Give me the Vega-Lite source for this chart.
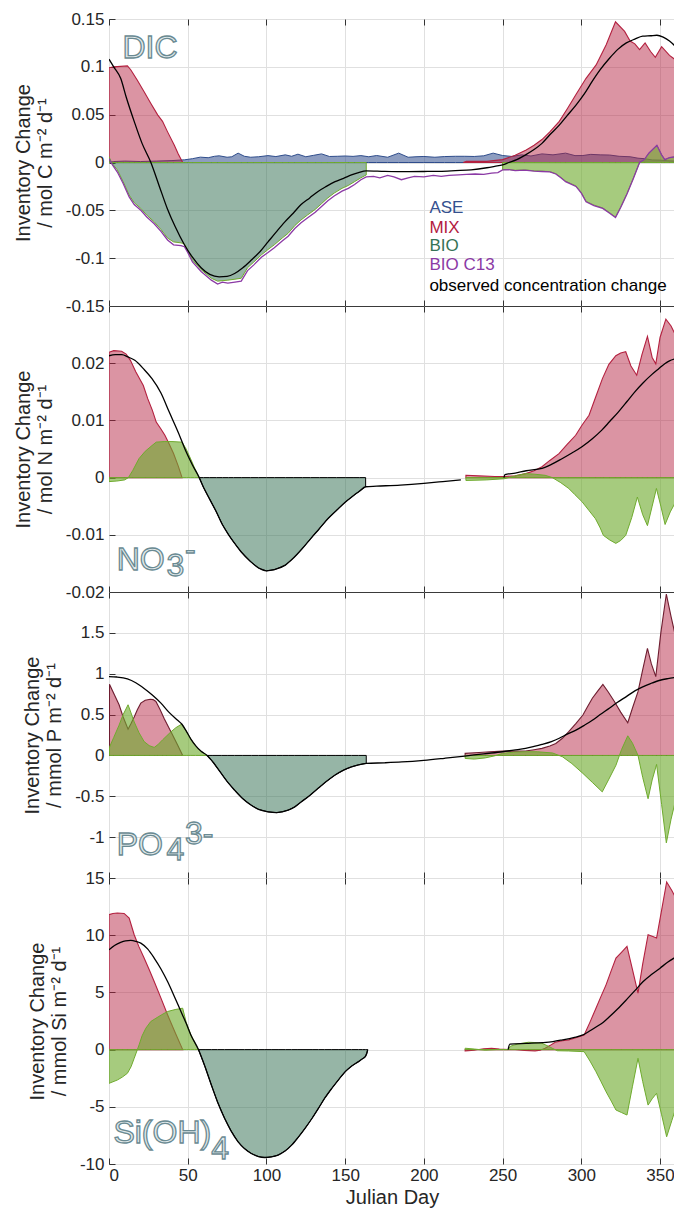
{
  "$schema": "https://vega.github.io/schema/vega-lite/v6.json",
  "padding": {"left": 12, "top": 9, "right": 0, "bottom": 2},
  "background": "white",
  "spacing": 0,
  "bounds": "flush",
  "config": {
    "font": "Liberation Sans",
    "view": {"stroke": "#3a3a3a", "strokeWidth": 1},
    "axis": {
      "labelFont": "Liberation Sans", "labelFontSize": 17, "labelColor": "#262626",
      "titleFont": "Liberation Sans", "titleFontSize": 20, "titleFontWeight": "normal", "titleColor": "#262626",
      "gridColor": "#e0e0e0", "gridWidth": 1, "tickColor": "#333333", "tickSize": -6, "tickWidth": 1,
      "domain": false, "labelPadding": 11, "titleLineHeight": 22, "titlePadding": 10
    }
  },
  "datasets": {
    "dic_ase": [
      {"g":1,"d":0,"v":0.0},{"g":1,"d":3,"v":0.001},{"g":1,"d":10,"v":0.0015},{"g":1,"d":20,"v":0.001},{"g":1,"d":30,"v":0.0015},{"g":1,"d":40,"v":0.002},{"g":1,"d":48,"v":0.0028},{"g":1,"d":53,"v":0.004},{"g":1,"d":58,"v":0.0056},{"g":1,"d":63,"v":0.005},{"g":1,"d":67,"v":0.0065},{"g":1,"d":70,"v":0.007},{"g":1,"d":75,"v":0.0055},{"g":1,"d":78,"v":0.006},{"g":1,"d":82,"v":0.0098},{"g":1,"d":86,"v":0.0065},{"g":1,"d":90,"v":0.0055},{"g":1,"d":95,"v":0.006},{"g":1,"d":101,"v":0.0072},{"g":1,"d":106,"v":0.0062},{"g":1,"d":112,"v":0.008},{"g":1,"d":116,"v":0.0065},{"g":1,"d":120,"v":0.0087},{"g":1,"d":125,"v":0.006},{"g":1,"d":130,"v":0.0075},{"g":1,"d":135,"v":0.009},{"g":1,"d":140,"v":0.0063},{"g":1,"d":145,"v":0.0065},{"g":1,"d":150,"v":0.0068},{"g":1,"d":155,"v":0.0064},{"g":1,"d":160,"v":0.0072},{"g":1,"d":165,"v":0.006},{"g":1,"d":170,"v":0.0073},{"g":1,"d":177,"v":0.0055},{"g":1,"d":184,"v":0.0098},{"g":1,"d":190,"v":0.0055},{"g":1,"d":195,"v":0.006},{"g":1,"d":200,"v":0.0063},{"g":1,"d":207,"v":0.0055},{"g":1,"d":213,"v":0.0062},{"g":1,"d":220,"v":0.0065},{"g":1,"d":226,"v":0.0065},{"g":1,"d":232,"v":0.0063},{"g":1,"d":238,"v":0.007},{"g":1,"d":244,"v":0.0098},{"g":1,"d":250,"v":0.0073},{"g":1,"d":256,"v":0.0063},{"g":1,"d":262,"v":0.008},{"g":1,"d":268,"v":0.0068},{"g":1,"d":275,"v":0.009},{"g":1,"d":282,"v":0.008},{"g":1,"d":290,"v":0.0098},{"g":1,"d":296,"v":0.0072},{"g":1,"d":301,"v":0.0073},{"g":1,"d":306,"v":0.0085},{"g":1,"d":312,"v":0.008},{"g":1,"d":318,"v":0.0078},{"g":1,"d":324,"v":0.0065},{"g":1,"d":331,"v":0.006},{"g":1,"d":336,"v":0.0045},{"g":1,"d":340,"v":0.004},{"g":1,"d":345,"v":0.0027},{"g":1,"d":350,"v":0.0025},{"g":1,"d":355,"v":0.0018},{"g":1,"d":360,"v":0.0015}
    ],
    "dic_mix": [
      {"g":1,"d":0,"v":0.099},{"g":1,"d":3,"v":0.1},{"g":1,"d":11.7,"v":0.101},{"g":1,"d":13.8,"v":0.097},{"g":1,"d":18,"v":0.086},{"g":1,"d":22.3,"v":0.074},{"g":1,"d":26.5,"v":0.062},{"g":1,"d":30.9,"v":0.0498},{"g":1,"d":34,"v":0.043},{"g":1,"d":37.2,"v":0.032},{"g":1,"d":41.5,"v":0.018},{"g":1,"d":44,"v":0.009},{"g":1,"d":46.8,"v":0},
      {"g":2,"d":225,"v":0},{"g":2,"d":227,"v":0.0012},{"g":2,"d":240,"v":0.0012},{"g":2,"d":250,"v":0.003},{"g":2,"d":258,"v":0.0075},{"g":2,"d":265,"v":0.013},{"g":2,"d":270,"v":0.018},{"g":2,"d":275,"v":0.024},{"g":2,"d":280,"v":0.032},{"g":2,"d":286,"v":0.043},{"g":2,"d":291,"v":0.056},{"g":2,"d":296.6,"v":0.071},{"g":2,"d":303,"v":0.088},{"g":2,"d":309.4,"v":0.102},{"g":2,"d":315.8,"v":0.123},{"g":2,"d":321.7,"v":0.147},{"g":2,"d":327.5,"v":0.137},{"g":2,"d":331,"v":0.127},{"g":2,"d":334,"v":0.124},{"g":2,"d":337,"v":0.118},{"g":2,"d":340.5,"v":0.125},{"g":2,"d":344,"v":0.116},{"g":2,"d":347,"v":0.11},{"g":2,"d":351,"v":0.121},{"g":2,"d":356,"v":0.112},{"g":2,"d":360,"v":0.107}
    ],
    "dic_teal": [
      {"g":1,"d":0,"v":0.006},{"g":1,"d":2,"v":-0.001},{"g":1,"d":5.3,"v":-0.0077},{"g":1,"d":9,"v":-0.02},{"g":1,"d":12.8,"v":-0.034},{"g":1,"d":16,"v":-0.042},{"g":1,"d":20.2,"v":-0.048},{"g":1,"d":24,"v":-0.055},{"g":1,"d":28.7,"v":-0.062},{"g":1,"d":33,"v":-0.07},{"g":1,"d":37.2,"v":-0.079},{"g":1,"d":41,"v":-0.083},{"g":1,"d":45.7,"v":-0.084},{"g":1,"d":47.9,"v":-0.085},{"g":1,"d":50,"v":-0.092},{"g":1,"d":53,"v":-0.102},{"g":1,"d":58.5,"v":-0.112},{"g":1,"d":65,"v":-0.121},{"g":1,"d":69,"v":-0.124},{"g":1,"d":75.5,"v":-0.123},{"g":1,"d":80,"v":-0.122},{"g":1,"d":84,"v":-0.121},{"g":1,"d":88,"v":-0.11},{"g":1,"d":92,"v":-0.104},{"g":1,"d":96.8,"v":-0.0965},{"g":1,"d":101,"v":-0.091},{"g":1,"d":105,"v":-0.086},{"g":1,"d":110,"v":-0.079},{"g":1,"d":113.8,"v":-0.074},{"g":1,"d":118,"v":-0.066},{"g":1,"d":122,"v":-0.06},{"g":1,"d":126,"v":-0.055},{"g":1,"d":131,"v":-0.049},{"g":1,"d":135,"v":-0.043},{"g":1,"d":139,"v":-0.037},{"g":1,"d":143,"v":-0.032},{"g":1,"d":148,"v":-0.027},{"g":1,"d":152,"v":-0.024},{"g":1,"d":156,"v":-0.02},{"g":1,"d":160,"v":-0.016},{"g":1,"d":163.4,"v":-0.013}
    ],
    "dic_bio": [
      {"g":2,"d":250,"v":-0.0075},{"g":2,"d":254,"v":-0.0073},{"g":2,"d":258,"v":-0.0082},{"g":2,"d":264,"v":-0.0077},{"g":2,"d":270,"v":-0.0087},{"g":2,"d":275,"v":-0.0091},{"g":2,"d":280,"v":-0.0095},{"g":2,"d":283.8,"v":-0.0117},{"g":2,"d":287,"v":-0.0155},{"g":2,"d":290,"v":-0.0195},{"g":2,"d":296.6,"v":-0.0245},{"g":2,"d":300,"v":-0.0315},{"g":2,"d":303,"v":-0.0405},{"g":2,"d":308,"v":-0.0445},{"g":2,"d":313.6,"v":-0.0475},{"g":2,"d":318,"v":-0.0525},{"g":2,"d":321.7,"v":-0.057},{"g":2,"d":325,"v":-0.0465},{"g":2,"d":329,"v":-0.0325},{"g":2,"d":333,"v":-0.0165},{"g":2,"d":337,"v":0},{"g":2,"d":340,"v":0.003},{"g":2,"d":343,"v":0.01},{"g":2,"d":348,"v":0.018},{"g":2,"d":351,"v":0.008},{"g":2,"d":353,"v":0.003},{"g":2,"d":356,"v":0.005},{"g":2,"d":360,"v":0.006}
    ],
    "dic_c13": [
      {"g":1,"d":0,"v":0.004},{"g":1,"d":2,"v":-0.002},{"g":1,"d":5.3,"v":-0.01},{"g":1,"d":9,"v":-0.022},{"g":1,"d":12.8,"v":-0.036},{"g":1,"d":16,"v":-0.044},{"g":1,"d":20.2,"v":-0.05},{"g":1,"d":24,"v":-0.057},{"g":1,"d":28.7,"v":-0.064},{"g":1,"d":33,"v":-0.072},{"g":1,"d":37.2,"v":-0.081},{"g":1,"d":41,"v":-0.086},{"g":1,"d":45.7,"v":-0.087},{"g":1,"d":47.9,"v":-0.088},{"g":1,"d":50,"v":-0.094},{"g":1,"d":53,"v":-0.104},{"g":1,"d":58.5,"v":-0.114},{"g":1,"d":65,"v":-0.123},{"g":1,"d":69,"v":-0.127},{"g":1,"d":72,"v":-0.125},{"g":1,"d":75.5,"v":-0.126},{"g":1,"d":80,"v":-0.125},{"g":1,"d":84,"v":-0.124},{"g":1,"d":88,"v":-0.113},{"g":1,"d":92,"v":-0.107},{"g":1,"d":96.8,"v":-0.099},{"g":1,"d":101,"v":-0.094},{"g":1,"d":105,"v":-0.089},{"g":1,"d":110,"v":-0.082},{"g":1,"d":113.8,"v":-0.077},{"g":1,"d":118,"v":-0.069},{"g":1,"d":122,"v":-0.063},{"g":1,"d":126,"v":-0.058},{"g":1,"d":131,"v":-0.052},{"g":1,"d":135,"v":-0.046},{"g":1,"d":139,"v":-0.04},{"g":1,"d":143,"v":-0.035},{"g":1,"d":148,"v":-0.03},{"g":1,"d":152,"v":-0.027},{"g":1,"d":156,"v":-0.023},{"g":1,"d":160,"v":-0.018},{"g":1,"d":163.4,"v":-0.015},{"g":1,"d":168,"v":-0.0146},{"g":1,"d":172,"v":-0.016},{"g":1,"d":177,"v":-0.0135},{"g":1,"d":181,"v":-0.015},{"g":1,"d":185.7,"v":-0.018},{"g":1,"d":190,"v":-0.016},{"g":1,"d":194,"v":-0.0146},{"g":1,"d":200,"v":-0.015},{"g":1,"d":206,"v":-0.0135},{"g":1,"d":211,"v":-0.0146},{"g":1,"d":216,"v":-0.0135},{"g":1,"d":222,"v":-0.013},{"g":1,"d":227,"v":-0.0125},{"g":1,"d":232.6,"v":-0.012},{"g":1,"d":238,"v":-0.0125},{"g":1,"d":243,"v":-0.011},{"g":1,"d":247,"v":-0.0105},{"g":1,"d":250,"v":-0.0077},{"g":1,"d":254,"v":-0.0075},{"g":1,"d":258,"v":-0.0085},{"g":1,"d":264,"v":-0.008},{"g":1,"d":270,"v":-0.009},{"g":1,"d":275,"v":-0.0094},{"g":1,"d":280,"v":-0.0098},{"g":1,"d":283.8,"v":-0.012},{"g":1,"d":287,"v":-0.016},{"g":1,"d":290,"v":-0.02},{"g":1,"d":296.6,"v":-0.025},{"g":1,"d":300,"v":-0.032},{"g":1,"d":303,"v":-0.041},{"g":1,"d":308,"v":-0.045},{"g":1,"d":313.6,"v":-0.048},{"g":1,"d":318,"v":-0.053},{"g":1,"d":321.7,"v":-0.0575},{"g":1,"d":325,"v":-0.047},{"g":1,"d":329,"v":-0.033},{"g":1,"d":333,"v":-0.017},{"g":1,"d":337,"v":0},{"g":1,"d":340,"v":0.003},{"g":1,"d":343,"v":0.01},{"g":1,"d":348,"v":0.018},{"g":1,"d":351,"v":0.008},{"g":1,"d":353,"v":0.003},{"g":1,"d":356,"v":0.005},{"g":1,"d":360,"v":0.006}
    ],
    "dic_obs": [
      {"g":1,"d":0,"v":0.108},{"g":1,"d":3,"v":0.1},{"g":1,"d":7.4,"v":0.088},{"g":1,"d":11,"v":0.068},{"g":1,"d":16,"v":0.043},{"g":1,"d":21,"v":0.02},{"g":1,"d":26.6,"v":0},{"g":1,"d":32,"v":-0.025},{"g":1,"d":37,"v":-0.048},{"g":1,"d":42,"v":-0.067},{"g":1,"d":47.9,"v":-0.086},{"g":1,"d":53,"v":-0.099},{"g":1,"d":58.5,"v":-0.11},{"g":1,"d":64,"v":-0.117},{"g":1,"d":70,"v":-0.1195},{"g":1,"d":75,"v":-0.119},{"g":1,"d":79.8,"v":-0.116},{"g":1,"d":85,"v":-0.11},{"g":1,"d":90.4,"v":-0.102},{"g":1,"d":96,"v":-0.093},{"g":1,"d":101,"v":-0.083},{"g":1,"d":106,"v":-0.073},{"g":1,"d":111.7,"v":-0.062},{"g":1,"d":117,"v":-0.053},{"g":1,"d":122,"v":-0.044},{"g":1,"d":127.5,"v":-0.037},{"g":1,"d":133,"v":-0.03},{"g":1,"d":138,"v":-0.025},{"g":1,"d":143.6,"v":-0.02},{"g":1,"d":149,"v":-0.0165},{"g":1,"d":154,"v":-0.013},{"g":1,"d":158.5,"v":-0.0105},{"g":1,"d":163.4,"v":-0.0087},{"g":1,"d":175,"v":-0.0092},{"g":1,"d":190,"v":-0.0095},{"g":1,"d":200,"v":-0.0094},{"g":1,"d":210,"v":-0.0092},{"g":1,"d":220,"v":-0.0085},{"g":1,"d":230,"v":-0.0077},{"g":1,"d":240,"v":-0.0055},{"g":1,"d":245,"v":-0.004},{"g":1,"d":250,"v":-0.0024},{"g":1,"d":254,"v":0},{"g":1,"d":259,"v":0.003},{"g":1,"d":264.6,"v":0.008},{"g":1,"d":270,"v":0.0135},{"g":1,"d":275,"v":0.02},{"g":1,"d":280,"v":0.029},{"g":1,"d":286,"v":0.039},{"g":1,"d":291,"v":0.049},{"g":1,"d":296.6,"v":0.06},{"g":1,"d":302,"v":0.072},{"g":1,"d":307,"v":0.085},{"g":1,"d":312,"v":0.097},{"g":1,"d":317.9,"v":0.109},{"g":1,"d":323,"v":0.118},{"g":1,"d":328.6,"v":0.125},{"g":1,"d":334,"v":0.129},{"g":1,"d":339,"v":0.132},{"g":1,"d":344,"v":0.1325},{"g":1,"d":348,"v":0.133},{"g":1,"d":352,"v":0.131},{"g":1,"d":356,"v":0.127},{"g":1,"d":360,"v":0.121}
    ],
    "dic_name": [{"t":"DIC","d":8.5,"v":0.1089}],
    "dic_leg": [
      {"t":"ASE","d":203.5,"v":-0.0529},{"t":"MIX","d":203.5,"v":-0.0738},{"t":"BIO","d":203.5,"v":-0.0929},{"t":"BIO C13","d":203.5,"v":-0.1127},{"t":"observed concentration change","d":203.5,"v":-0.1339}
    ],
    "no3_mix": [
      {"g":1,"d":0,"v":0.0219},{"g":1,"d":3,"v":0.0222},{"g":1,"d":8,"v":0.0221},{"g":1,"d":10.9,"v":0.0216},{"g":1,"d":13.6,"v":0.0205},{"g":1,"d":17,"v":0.0185},{"g":1,"d":21.8,"v":0.0161},{"g":1,"d":24.6,"v":0.0138},{"g":1,"d":27.5,"v":0.0118},{"g":1,"d":30,"v":0.0097},{"g":1,"d":33,"v":0.0085},{"g":1,"d":35.5,"v":0.0074},{"g":1,"d":38,"v":0.006},{"g":1,"d":41,"v":0.0042},{"g":1,"d":44,"v":0.002},{"g":1,"d":46.4,"v":0},
      {"g":2,"d":226.7,"v":0.0004},{"g":2,"d":235,"v":0.0003},{"g":2,"d":245,"v":0.0002},{"g":2,"d":251,"v":0.0002},{"g":2,"d":258,"v":0.0003},{"g":2,"d":264.7,"v":0.0007},{"g":2,"d":270,"v":0.0012},{"g":2,"d":275,"v":0.0019},{"g":2,"d":280,"v":0.003},{"g":2,"d":285.8,"v":0.0042},{"g":2,"d":291,"v":0.0058},{"g":2,"d":296.4,"v":0.0074},{"g":2,"d":300.5,"v":0.0092},{"g":2,"d":304.9,"v":0.0109},{"g":2,"d":309,"v":0.014},{"g":2,"d":313.4,"v":0.0173},{"g":2,"d":317.5,"v":0.0198},{"g":2,"d":321.9,"v":0.0213},{"g":2,"d":325,"v":0.0218},{"g":2,"d":328.2,"v":0.022},{"g":2,"d":331.5,"v":0.0195},{"g":2,"d":335.2,"v":0.0179},{"g":2,"d":338.5,"v":0.0215},{"g":2,"d":342,"v":0.0247},{"g":2,"d":345,"v":0.021},{"g":2,"d":347.3,"v":0.0199},{"g":2,"d":350,"v":0.0245},{"g":2,"d":353.7,"v":0.0277},{"g":2,"d":357,"v":0.0265},{"g":2,"d":360,"v":0.0248}
    ],
    "no3_bio": [
      {"g":1,"d":0,"v":-0.0007},{"g":1,"d":5,"v":-0.0006},{"g":1,"d":10,"v":-0.0004},{"g":1,"d":12.3,"v":0},{"g":1,"d":15,"v":0.0012},{"g":1,"d":19,"v":0.0033},{"g":1,"d":23,"v":0.0046},{"g":1,"d":27.3,"v":0.0056},{"g":1,"d":30,"v":0.0062},{"g":1,"d":35,"v":0.0063},{"g":1,"d":40,"v":0.0063},{"g":1,"d":46.4,"v":0.0062},{"g":1,"d":49,"v":0.005},{"g":1,"d":52,"v":0.0032},{"g":1,"d":54.5,"v":0.0016},{"g":1,"d":57.3,"v":0},
      {"g":2,"d":226.7,"v":-0.0005},{"g":2,"d":240,"v":-0.0004},{"g":2,"d":251,"v":-0.0002},{"g":2,"d":258,"v":0.0003},{"g":2,"d":264.7,"v":0.0007},{"g":2,"d":270,"v":0.0006},{"g":2,"d":277,"v":0.0004},{"g":2,"d":281.6,"v":0},{"g":2,"d":287,"v":-0.0009},{"g":2,"d":292,"v":-0.0019},{"g":2,"d":296,"v":-0.003},{"g":2,"d":300.4,"v":-0.0042},{"g":2,"d":305,"v":-0.0058},{"g":2,"d":309,"v":-0.0072},{"g":2,"d":312,"v":-0.0088},{"g":2,"d":314,"v":-0.0101},{"g":2,"d":318,"v":-0.0109},{"g":2,"d":321.9,"v":-0.0115},{"g":2,"d":325,"v":-0.011},{"g":2,"d":328.2,"v":-0.0101},{"g":2,"d":332,"v":-0.007},{"g":2,"d":335.6,"v":-0.0034},{"g":2,"d":339,"v":-0.0065},{"g":2,"d":342,"v":-0.0084},{"g":2,"d":345,"v":-0.005},{"g":2,"d":347.7,"v":-0.0019},{"g":2,"d":350.5,"v":-0.005},{"g":2,"d":353.2,"v":-0.0082},{"g":2,"d":356.5,"v":-0.006},{"g":2,"d":360,"v":-0.0042}
    ],
    "no3_teal": [
      {"g":1,"d":57.3,"v":0},{"g":1,"d":60,"v":-0.0017},{"g":1,"d":64,"v":-0.0038},{"g":1,"d":68.2,"v":-0.006},{"g":1,"d":72,"v":-0.0082},{"g":1,"d":76,"v":-0.01},{"g":1,"d":79,"v":-0.0112},{"g":1,"d":84,"v":-0.013},{"g":1,"d":90,"v":-0.0147},{"g":1,"d":95,"v":-0.0158},{"g":1,"d":100,"v":-0.0163},{"g":1,"d":105,"v":-0.0161},{"g":1,"d":112,"v":-0.0153},{"g":1,"d":117,"v":-0.0141},{"g":1,"d":122.8,"v":-0.0124},{"g":1,"d":128,"v":-0.0107},{"g":1,"d":133.7,"v":-0.0089},{"g":1,"d":139,"v":-0.0072},{"g":1,"d":144.6,"v":-0.0057},{"g":1,"d":150,"v":-0.0043},{"g":1,"d":155,"v":-0.0032},{"g":1,"d":159,"v":-0.0024},{"g":1,"d":163,"v":-0.0016}
    ],
    "no3_obs": [
      {"g":1,"d":0,"v":0.0213},{"g":1,"d":4,"v":0.0215},{"g":1,"d":8.2,"v":0.0215},{"g":1,"d":12,"v":0.0211},{"g":1,"d":16.4,"v":0.0205},{"g":1,"d":22,"v":0.019},{"g":1,"d":27.3,"v":0.0173},{"g":1,"d":33,"v":0.0148},{"g":1,"d":38.2,"v":0.0115},{"g":1,"d":44,"v":0.0079},{"g":1,"d":49,"v":0.0045},{"g":1,"d":53,"v":0.0022},{"g":1,"d":57.3,"v":0},{"g":1,"d":60,"v":-0.0017},{"g":1,"d":64,"v":-0.0038},{"g":1,"d":68.2,"v":-0.006},{"g":1,"d":72,"v":-0.0082},{"g":1,"d":76,"v":-0.01},{"g":1,"d":79,"v":-0.0112},{"g":1,"d":84,"v":-0.013},{"g":1,"d":90,"v":-0.0147},{"g":1,"d":95,"v":-0.0158},{"g":1,"d":100,"v":-0.0163},{"g":1,"d":105,"v":-0.0161},{"g":1,"d":112,"v":-0.0153},{"g":1,"d":117,"v":-0.0141},{"g":1,"d":122.8,"v":-0.0124},{"g":1,"d":128,"v":-0.0107},{"g":1,"d":133.7,"v":-0.0089},{"g":1,"d":139,"v":-0.0072},{"g":1,"d":144.6,"v":-0.0057},{"g":1,"d":150,"v":-0.0043},{"g":1,"d":155,"v":-0.0032},{"g":1,"d":159,"v":-0.0024},{"g":1,"d":163,"v":-0.0016},{"g":1,"d":170,"v":-0.0015},{"g":1,"d":185,"v":-0.0013},{"g":1,"d":200,"v":-0.001},{"g":1,"d":212,"v":-0.0007},{"g":1,"d":223.5,"v":-0.0004},
      {"g":2,"d":250.8,"v":0},{"g":2,"d":251.5,"v":0.0005},{"g":2,"d":258,"v":0.0008},{"g":2,"d":265,"v":0.0012},{"g":2,"d":275,"v":0.0016},{"g":2,"d":281,"v":0.0023},{"g":2,"d":287.7,"v":0.0033},{"g":2,"d":294,"v":0.0043},{"g":2,"d":300.4,"v":0.0054},{"g":2,"d":307,"v":0.0068},{"g":2,"d":313,"v":0.0083},{"g":2,"d":318,"v":0.0098},{"g":2,"d":323.6,"v":0.0115},{"g":2,"d":329,"v":0.0133},{"g":2,"d":334,"v":0.015},{"g":2,"d":339,"v":0.0165},{"g":2,"d":344.7,"v":0.018},{"g":2,"d":349,"v":0.019},{"g":2,"d":353,"v":0.0199},{"g":2,"d":356,"v":0.0204},{"g":2,"d":360,"v":0.0208}
    ],
    "no3_name": [{"t":"NO","d":4.9,"v":-0.01616},{"t":"3","d":36.5,"v":-0.01716},{"t":"-","d":48.2,"v":-0.01436}],
    "po4_mix": [
      {"g":1,"d":0.3,"v":0.87},{"g":1,"d":3.5,"v":0.74},{"g":1,"d":6.4,"v":0.62},{"g":1,"d":9,"v":0.47},{"g":1,"d":12.1,"v":0.32},{"g":1,"d":14,"v":0.39},{"g":1,"d":16,"v":0.47},{"g":1,"d":18,"v":0.56},{"g":1,"d":20.2,"v":0.64},{"g":1,"d":23,"v":0.675},{"g":1,"d":26.2,"v":0.687},{"g":1,"d":28,"v":0.683},{"g":1,"d":29.8,"v":0.66},{"g":1,"d":32.5,"v":0.56},{"g":1,"d":35.1,"v":0.45},{"g":1,"d":37.7,"v":0.35},{"g":1,"d":40.4,"v":0.25},{"g":1,"d":43.5,"v":0.13},{"g":1,"d":46.8,"v":0},
      {"g":2,"d":226.2,"v":0.025},{"g":2,"d":235,"v":0.035},{"g":2,"d":242,"v":0.045},{"g":2,"d":250,"v":0.053},{"g":2,"d":257,"v":0.053},{"g":2,"d":264.6,"v":0.055},{"g":2,"d":270,"v":0.07},{"g":2,"d":275,"v":0.086},{"g":2,"d":280,"v":0.115},{"g":2,"d":283.8,"v":0.147},{"g":2,"d":288,"v":0.21},{"g":2,"d":292,"v":0.29},{"g":2,"d":296.5,"v":0.39},{"g":2,"d":301,"v":0.495},{"g":2,"d":304,"v":0.6},{"g":2,"d":307,"v":0.7},{"g":2,"d":310.5,"v":0.79},{"g":2,"d":313.7,"v":0.87},{"g":2,"d":317,"v":0.78},{"g":2,"d":321,"v":0.66},{"g":2,"d":325,"v":0.53},{"g":2,"d":329.5,"v":0.4},{"g":2,"d":332.5,"v":0.58},{"g":2,"d":336,"v":0.78},{"g":2,"d":339,"v":1.05},{"g":2,"d":342,"v":1.31},{"g":2,"d":344.5,"v":1.12},{"g":2,"d":347.3,"v":0.965},{"g":2,"d":350.5,"v":1.5},{"g":2,"d":354,"v":1.975},{"g":2,"d":357,"v":1.7},{"g":2,"d":360.6,"v":1.39}
    ],
    "po4_bio": [
      {"g":1,"d":0.3,"v":0.1},{"g":1,"d":3,"v":0.22},{"g":1,"d":6.4,"v":0.37},{"g":1,"d":9,"v":0.5},{"g":1,"d":12.1,"v":0.62},{"g":1,"d":14,"v":0.52},{"g":1,"d":16,"v":0.41},{"g":1,"d":19,"v":0.28},{"g":1,"d":22.3,"v":0.17},{"g":1,"d":25.5,"v":0.12},{"g":1,"d":28.7,"v":0.098},{"g":1,"d":31,"v":0.13},{"g":1,"d":34,"v":0.19},{"g":1,"d":36.7,"v":0.24},{"g":1,"d":39.4,"v":0.29},{"g":1,"d":42.5,"v":0.34},{"g":1,"d":46.2,"v":0.384},{"g":1,"d":49,"v":0.3},{"g":1,"d":52,"v":0.2},{"g":1,"d":55,"v":0.12},{"g":1,"d":58.5,"v":0.05},{"g":1,"d":62.3,"v":0},
      {"g":2,"d":226.2,"v":-0.037},{"g":2,"d":232,"v":-0.045},{"g":2,"d":239,"v":-0.03},{"g":2,"d":245,"v":-0.005},{"g":2,"d":250,"v":0.025},{"g":2,"d":257,"v":0.04},{"g":2,"d":264.6,"v":0.045},{"g":2,"d":272,"v":0.045},{"g":2,"d":281.7,"v":0.03},{"g":2,"d":288,"v":-0.016},{"g":2,"d":294,"v":-0.1},{"g":2,"d":301,"v":-0.22},{"g":2,"d":307,"v":-0.33},{"g":2,"d":313.3,"v":-0.446},{"g":2,"d":317.5,"v":-0.29},{"g":2,"d":322,"v":-0.12},{"g":2,"d":325.5,"v":0.07},{"g":2,"d":329.5,"v":0.24},{"g":2,"d":332.5,"v":0.15},{"g":2,"d":336,"v":0},{"g":2,"d":339,"v":-0.27},{"g":2,"d":342.4,"v":-0.53},{"g":2,"d":345,"v":-0.3},{"g":2,"d":347.8,"v":-0.11},{"g":2,"d":351,"v":-0.6},{"g":2,"d":354,"v":-1.07},{"g":2,"d":357,"v":-0.78},{"g":2,"d":360.6,"v":-0.49}
    ],
    "po4_teal": [
      {"g":1,"d":62.3,"v":0},{"g":1,"d":66,"v":-0.08},{"g":1,"d":71.3,"v":-0.22},{"g":1,"d":75.5,"v":-0.33},{"g":1,"d":79.8,"v":-0.425},{"g":1,"d":85,"v":-0.53},{"g":1,"d":90.4,"v":-0.61},{"g":1,"d":95,"v":-0.66},{"g":1,"d":101,"v":-0.69},{"g":1,"d":106.4,"v":-0.7},{"g":1,"d":110,"v":-0.69},{"g":1,"d":113.8,"v":-0.67},{"g":1,"d":118,"v":-0.63},{"g":1,"d":122,"v":-0.57},{"g":1,"d":127.5,"v":-0.49},{"g":1,"d":133,"v":-0.4},{"g":1,"d":138,"v":-0.32},{"g":1,"d":143.6,"v":-0.24},{"g":1,"d":149,"v":-0.18},{"g":1,"d":154,"v":-0.14},{"g":1,"d":158.5,"v":-0.115},{"g":1,"d":163.4,"v":-0.098}
    ],
    "po4_obs": [
      {"g":1,"d":0,"v":0.965},{"g":1,"d":5,"v":0.96},{"g":1,"d":11.7,"v":0.937},{"g":1,"d":17,"v":0.89},{"g":1,"d":22.3,"v":0.82},{"g":1,"d":27.5,"v":0.74},{"g":1,"d":33,"v":0.64},{"g":1,"d":38,"v":0.53},{"g":1,"d":43.6,"v":0.43},{"g":1,"d":46.2,"v":0.385},{"g":1,"d":49,"v":0.3},{"g":1,"d":52,"v":0.2},{"g":1,"d":55,"v":0.12},{"g":1,"d":58.5,"v":0.05},{"g":1,"d":62.3,"v":0},{"g":1,"d":66,"v":-0.08},{"g":1,"d":71.3,"v":-0.22},{"g":1,"d":75.5,"v":-0.33},{"g":1,"d":79.8,"v":-0.425},{"g":1,"d":85,"v":-0.53},{"g":1,"d":90.4,"v":-0.61},{"g":1,"d":95,"v":-0.66},{"g":1,"d":101,"v":-0.69},{"g":1,"d":106.4,"v":-0.7},{"g":1,"d":110,"v":-0.69},{"g":1,"d":113.8,"v":-0.67},{"g":1,"d":118,"v":-0.63},{"g":1,"d":122,"v":-0.57},{"g":1,"d":127.5,"v":-0.49},{"g":1,"d":133,"v":-0.4},{"g":1,"d":138,"v":-0.32},{"g":1,"d":143.6,"v":-0.24},{"g":1,"d":149,"v":-0.18},{"g":1,"d":154,"v":-0.14},{"g":1,"d":158.5,"v":-0.115},{"g":1,"d":163.4,"v":-0.098},{"g":1,"d":175,"v":-0.09},{"g":1,"d":186,"v":-0.08},{"g":1,"d":200,"v":-0.06},{"g":1,"d":213,"v":-0.035},{"g":1,"d":226,"v":-0.008},{"g":1,"d":238,"v":0.02},{"g":1,"d":250,"v":0.045},{"g":1,"d":257,"v":0.065},{"g":1,"d":264.6,"v":0.086},{"g":1,"d":270,"v":0.11},{"g":1,"d":275,"v":0.135},{"g":1,"d":281,"v":0.17},{"g":1,"d":286,"v":0.21},{"g":1,"d":291,"v":0.26},{"g":1,"d":296.6,"v":0.31},{"g":1,"d":302,"v":0.37},{"g":1,"d":307,"v":0.43},{"g":1,"d":312,"v":0.5},{"g":1,"d":318,"v":0.58},{"g":1,"d":323,"v":0.65},{"g":1,"d":328.6,"v":0.72},{"g":1,"d":334,"v":0.79},{"g":1,"d":339,"v":0.84},{"g":1,"d":344,"v":0.88},{"g":1,"d":350,"v":0.92},{"g":1,"d":355,"v":0.94},{"g":1,"d":360,"v":0.955}
    ],
    "po4_name": [{"t":"PO","d":4.9,"v":-1.222},{"t":"4","d":36.5,"v":-1.28},{"t":"3-","d":48.2,"v":-1.08}],
    "si_mix": [
      {"g":1,"d":0,"v":11.8},{"g":1,"d":2.5,"v":11.9},{"g":1,"d":5.3,"v":11.94},{"g":1,"d":9.6,"v":11.9},{"g":1,"d":12.8,"v":11.5},{"g":1,"d":16,"v":10.04},{"g":1,"d":19,"v":9.0},{"g":1,"d":22.3,"v":8.0},{"g":1,"d":25.5,"v":7.0},{"g":1,"d":28.7,"v":5.95},{"g":1,"d":33,"v":4.5},{"g":1,"d":37.2,"v":3.04},{"g":1,"d":42,"v":1.5},{"g":1,"d":46.8,"v":0},
      {"g":2,"d":226.2,"v":-0.12},{"g":2,"d":232,"v":-0.05},{"g":2,"d":238,"v":0.08},{"g":2,"d":243,"v":0.12},{"g":2,"d":248,"v":0.05},{"g":2,"d":253.6,"v":0},{"g":2,"d":258,"v":0},{"g":2,"d":264,"v":-0.08},{"g":2,"d":270.6,"v":-0.12},{"g":2,"d":274,"v":-0.05},{"g":2,"d":277,"v":0.12},{"g":2,"d":280,"v":0.35},{"g":2,"d":283.4,"v":0.64},{"g":2,"d":288,"v":0.78},{"g":2,"d":292,"v":0.85},{"g":2,"d":297,"v":1.05},{"g":2,"d":301.8,"v":1.28},{"g":2,"d":305.5,"v":2.4},{"g":2,"d":309.3,"v":3.62},{"g":2,"d":312.5,"v":4.65},{"g":2,"d":315.7,"v":5.66},{"g":2,"d":319,"v":6.9},{"g":2,"d":322,"v":8.0},{"g":2,"d":325.5,"v":8.5},{"g":2,"d":329,"v":9.02},{"g":2,"d":332.5,"v":7.0},{"g":2,"d":336,"v":4.93},{"g":2,"d":339,"v":7.5},{"g":2,"d":342.4,"v":10.04},{"g":2,"d":345,"v":9.9},{"g":2,"d":347.8,"v":9.75},{"g":2,"d":351,"v":12.2},{"g":2,"d":354.2,"v":14.65},{"g":2,"d":357.5,"v":13.9},{"g":2,"d":360.6,"v":13.1}
    ],
    "si_bio": [
      {"g":1,"d":0,"v":-2.95},{"g":1,"d":5.3,"v":-2.66},{"g":1,"d":8.5,"v":-2.4},{"g":1,"d":11.7,"v":-2.07},{"g":1,"d":14,"v":-1.5},{"g":1,"d":16,"v":-0.76},{"g":1,"d":19.1,"v":0.41},{"g":1,"d":21,"v":1.2},{"g":1,"d":23.4,"v":1.87},{"g":1,"d":26.5,"v":2.45},{"g":1,"d":29.8,"v":2.74},{"g":1,"d":33.5,"v":3.05},{"g":1,"d":37.2,"v":3.33},{"g":1,"d":42,"v":3.5},{"g":1,"d":46.8,"v":3.62},{"g":1,"d":49,"v":2.4},{"g":1,"d":52,"v":1.3},{"g":1,"d":54.5,"v":0.6},{"g":1,"d":56.8,"v":0},
      {"g":2,"d":226.2,"v":0.12},{"g":2,"d":232,"v":0.05},{"g":2,"d":239,"v":-0.05},{"g":2,"d":246,"v":0},{"g":2,"d":253.5,"v":0},{"g":2,"d":255,"v":0.3},{"g":2,"d":260,"v":0.5},{"g":2,"d":266.4,"v":0.64},{"g":2,"d":270,"v":0.62},{"g":2,"d":275,"v":0.55},{"g":2,"d":279,"v":0.3},{"g":2,"d":281.5,"v":0.12},{"g":2,"d":284.8,"v":-0.1},{"g":2,"d":292,"v":-0.12},{"g":2,"d":301.8,"v":-0.18},{"g":2,"d":305.5,"v":-1.0},{"g":2,"d":309.3,"v":-1.93},{"g":2,"d":312.5,"v":-2.8},{"g":2,"d":315.7,"v":-3.68},{"g":2,"d":319,"v":-4.5},{"g":2,"d":322,"v":-5.28},{"g":2,"d":325.5,"v":-5.5},{"g":2,"d":329,"v":-5.72},{"g":2,"d":332.5,"v":-3.2},{"g":2,"d":336,"v":-0.76},{"g":2,"d":339,"v":-2.8},{"g":2,"d":342.4,"v":-4.85},{"g":2,"d":345,"v":-4.3},{"g":2,"d":347.8,"v":-3.82},{"g":2,"d":351,"v":-5.7},{"g":2,"d":354.2,"v":-7.62},{"g":2,"d":357.5,"v":-6.2},{"g":2,"d":360.6,"v":-4.85}
    ],
    "si_teal": [
      {"g":1,"d":56.8,"v":0},{"g":1,"d":61,"v":-1.5},{"g":1,"d":65,"v":-3.09},{"g":1,"d":69,"v":-4.6},{"g":1,"d":73.4,"v":-6.0},{"g":1,"d":77.5,"v":-7.1},{"g":1,"d":82,"v":-8.06},{"g":1,"d":86,"v":-8.65},{"g":1,"d":90.4,"v":-9.08},{"g":1,"d":95,"v":-9.35},{"g":1,"d":99,"v":-9.43},{"g":1,"d":103,"v":-9.38},{"g":1,"d":107.4,"v":-9.22},{"g":1,"d":112,"v":-8.85},{"g":1,"d":116,"v":-8.35},{"g":1,"d":120,"v":-7.7},{"g":1,"d":124.5,"v":-6.89},{"g":1,"d":129,"v":-6.0},{"g":1,"d":133,"v":-5.14},{"g":1,"d":137,"v":-4.25},{"g":1,"d":141.5,"v":-3.39},{"g":1,"d":146,"v":-2.6},{"g":1,"d":150,"v":-1.93},{"g":1,"d":154,"v":-1.45},{"g":1,"d":158.5,"v":-1.05},{"g":1,"d":161,"v":-0.8},{"g":1,"d":162.8,"v":-0.61},{"g":1,"d":163.8,"v":-0.3},{"g":1,"d":164.3,"v":0}
    ],
    "si_obs": [
      {"g":1,"d":0,"v":8.73},{"g":1,"d":3.5,"v":9.1},{"g":1,"d":7.4,"v":9.37},{"g":1,"d":10.5,"v":9.5},{"g":1,"d":13.8,"v":9.54},{"g":1,"d":17,"v":9.47},{"g":1,"d":20.2,"v":9.31},{"g":1,"d":24.5,"v":8.8},{"g":1,"d":28.7,"v":8.0},{"g":1,"d":33,"v":7.05},{"g":1,"d":37.2,"v":5.95},{"g":1,"d":41.5,"v":4.65},{"g":1,"d":45.7,"v":3.33},{"g":1,"d":49,"v":2.3},{"g":1,"d":52,"v":1.28},{"g":1,"d":56.8,"v":0},{"g":1,"d":61,"v":-1.5},{"g":1,"d":65,"v":-3.09},{"g":1,"d":69,"v":-4.6},{"g":1,"d":73.4,"v":-6.0},{"g":1,"d":77.5,"v":-7.1},{"g":1,"d":82,"v":-8.06},{"g":1,"d":86,"v":-8.65},{"g":1,"d":90.4,"v":-9.08},{"g":1,"d":95,"v":-9.35},{"g":1,"d":99,"v":-9.43},{"g":1,"d":103,"v":-9.38},{"g":1,"d":107.4,"v":-9.22},{"g":1,"d":112,"v":-8.85},{"g":1,"d":116,"v":-8.35},{"g":1,"d":120,"v":-7.7},{"g":1,"d":124.5,"v":-6.89},{"g":1,"d":129,"v":-6.0},{"g":1,"d":133,"v":-5.14},{"g":1,"d":137,"v":-4.25},{"g":1,"d":141.5,"v":-3.39},{"g":1,"d":146,"v":-2.6},{"g":1,"d":150,"v":-1.93},{"g":1,"d":154,"v":-1.45},{"g":1,"d":158.5,"v":-1.05},{"g":1,"d":161,"v":-0.8},{"g":1,"d":162.8,"v":-0.61},{"g":1,"d":163.8,"v":-0.3},{"g":1,"d":164.3,"v":0},
      {"g":2,"d":253.5,"v":0},{"g":2,"d":254.6,"v":0.47},{"g":2,"d":265,"v":0.54},{"g":2,"d":275.4,"v":0.61},{"g":2,"d":282,"v":0.7},{"g":2,"d":288,"v":0.85},{"g":2,"d":295,"v":1.05},{"g":2,"d":301,"v":1.28},{"g":2,"d":305,"v":1.6},{"g":2,"d":309.6,"v":2.0},{"g":2,"d":314,"v":2.4},{"g":2,"d":318,"v":2.89},{"g":2,"d":323,"v":3.55},{"g":2,"d":328.6,"v":4.35},{"g":2,"d":334,"v":5.15},{"g":2,"d":339.3,"v":5.95},{"g":2,"d":345,"v":6.6},{"g":2,"d":350,"v":7.12},{"g":2,"d":355,"v":7.65},{"g":2,"d":360.6,"v":8.14}
    ],
    "si_name": [{"t":"Si(OH)","d":2.8,"v":-8.2},{"t":"4","d":65,"v":-9.55}]
  },
  "vconcat": [
    {
      "width": 566, "height": 287,
      "resolve": {"axis": {"x": "independent"}},
      "encoding": {
        "x": {"field": "d", "type": "quantitative", "scale": {"domain": [0, 359.5], "nice": false, "zero": false}, "axis": null},
        "y": {"field": "v", "type": "quantitative", "scale": {"domain": [-0.15, 0.15], "nice": false, "zero": false}, "stack": null, "axis": {"values": [-0.15,-0.1,-0.05,0,0.05,0.1,0.15], "labelExpr": "'' + datum.value", "title": ["Inventory Change", "/ mol C m⁻² d⁻¹"], "grid": true}},
        "detail": {"field": "g"}
      },
      "layer": [
        {"data": {"name": "dic_ase"}, "mark": {"type": "area", "orient": "vertical", "clip": true, "fill": "#2f4d8c", "fillOpacity": 0.55, "stroke": "#2f4d8c", "strokeWidth": 1}},
        {"data": {"name": "dic_mix"}, "mark": {"type": "area", "orient": "vertical", "clip": true, "fill": "#b3203f", "fillOpacity": 0.48, "stroke": "#b3203f", "strokeWidth": 1.1},
          "encoding": {
            "x": {"field": "d", "type": "quantitative", "scale": {"domain": [0, 359.5], "nice": false, "zero": false}, "axis": {"orient": "bottom", "values": [0,50,100,150,200,250,300,350], "labels": false, "title": null, "grid": true}}
          }},
        {"data": {"name": "dic_bio"}, "mark": {"type": "area", "orient": "vertical", "clip": true, "fill": "#6fab2e", "fillOpacity": 0.62, "stroke": "#6fab2e", "strokeWidth": 1}},
        {"data": {"name": "dic_teal"}, "mark": {"type": "area", "orient": "vertical", "clip": true, "fill": "#2d6b4e", "fillOpacity": 0.5, "stroke": "#6fab2e", "strokeWidth": 1}},
        {"data": {"name": "dic_c13"}, "mark": {"type": "line", "clip": true, "color": "#8b3aa5", "strokeWidth": 1.3}},
        {"data": {"name": "dic_obs"}, "mark": {"type": "line", "clip": true, "color": "black", "strokeWidth": 1.3, "interpolate": "monotone"},
          "encoding": {
            "x": {"field": "d", "type": "quantitative", "scale": {"domain": [0, 359.5], "nice": false, "zero": false}, "axis": {"orient": "top", "values": [0,50,100,150,200,250,300,350], "labels": false, "title": null, "grid": false}}
          }},
        {"data": {"values": [{}]}, "mark": {"type": "rule", "color": "#404040", "strokeWidth": 1.5},
          "encoding": {"x": {"datum": 0, "axis": null}, "x2": {"datum": 359.5}, "y": {"datum": 0}}},
        {"data": {"name": "dic_name"}, "mark": {"type": "text", "align": "left", "baseline": "alphabetic", "fontSize": 32, "font": "Liberation Sans", "fill": "#e2eaec", "stroke": "#6a8a92", "strokeWidth": 1.3},
          "encoding": {"text": {"field": "t"}}},
        {"data": {"name": "dic_leg"}, "mark": {"type": "text", "align": "left", "baseline": "alphabetic", "fontSize": 17, "font": "Liberation Sans"},
          "encoding": {"text": {"field": "t"}, "color": {"field": "t", "type": "nominal", "legend": null, "scale": {"domain": ["ASE", "MIX", "BIO", "BIO C13", "observed concentration change"], "range": ["#34508f", "#b3203f", "#357356", "#8b3aa5", "#000000"]}}}}
      ]
    },
    {
      "width": 566, "height": 286,
      "resolve": {"axis": {"x": "independent"}},
      "encoding": {
        "x": {"field": "d", "type": "quantitative", "scale": {"domain": [0, 359.5], "nice": false, "zero": false}, "axis": null},
        "y": {"field": "v", "type": "quantitative", "scale": {"domain": [-0.02, 0.03], "nice": false, "zero": false}, "stack": null, "axis": {"values": [-0.02,-0.01,0,0.01,0.02], "labelExpr": "'' + datum.value", "title": ["Inventory Change", "/ mol N m⁻² d⁻¹"], "grid": true}},
        "detail": {"field": "g"}
      },
      "layer": [
        {"data": {"name": "no3_mix"}, "mark": {"type": "area", "orient": "vertical", "clip": true, "fill": "#b3203f", "fillOpacity": 0.48, "stroke": "#b3203f", "strokeWidth": 1.1},
          "encoding": {
            "x": {"field": "d", "type": "quantitative", "scale": {"domain": [0, 359.5], "nice": false, "zero": false}, "axis": {"orient": "bottom", "values": [0,50,100,150,200,250,300,350], "labels": false, "title": null, "grid": true}}
          }},
        {"data": {"name": "no3_bio"}, "mark": {"type": "area", "orient": "vertical", "clip": true, "fill": "#6fab2e", "fillOpacity": 0.62, "stroke": "#6fab2e", "strokeWidth": 1}},
        {"data": {"name": "no3_teal"}, "mark": {"type": "area", "orient": "vertical", "clip": true, "fill": "#2d6b4e", "fillOpacity": 0.5, "stroke": "black", "strokeWidth": 1}},
        {"data": {"name": "no3_obs"}, "mark": {"type": "line", "clip": true, "color": "black", "strokeWidth": 1.3, "interpolate": "monotone"},
          "encoding": {
            "x": {"field": "d", "type": "quantitative", "scale": {"domain": [0, 359.5], "nice": false, "zero": false}, "axis": {"orient": "top", "values": [0,50,100,150,200,250,300,350], "labels": false, "title": null, "grid": false}}
          }},
        {"data": {"values": [{}]}, "mark": {"type": "rule", "color": "#404040", "strokeWidth": 1.5},
          "encoding": {"x": {"datum": 0, "axis": null}, "x2": {"datum": 359.5}, "y": {"datum": 0}}},
        {"data": {"name": "no3_name"}, "mark": {"type": "text", "align": "left", "baseline": "alphabetic", "fontSize": 32, "font": "Liberation Sans", "fill": "#e2eaec", "stroke": "#6a8a92", "strokeWidth": 1.3},
          "encoding": {"text": {"field": "t"}}}
      ]
    },
    {
      "width": 566, "height": 286,
      "resolve": {"axis": {"x": "independent"}},
      "encoding": {
        "x": {"field": "d", "type": "quantitative", "scale": {"domain": [0, 359.5], "nice": false, "zero": false}, "axis": null},
        "y": {"field": "v", "type": "quantitative", "scale": {"domain": [-1.5, 2], "nice": false, "zero": false}, "stack": null, "axis": {"values": [-1,-0.5,0,0.5,1,1.5], "labelExpr": "'' + datum.value", "title": ["Inventory Change", "/ mmol P m⁻² d⁻¹"], "grid": true}},
        "detail": {"field": "g"}
      },
      "layer": [
        {"data": {"name": "po4_mix"}, "mark": {"type": "area", "orient": "vertical", "clip": true, "fill": "#b3203f", "fillOpacity": 0.48, "stroke": "#6e1d30", "strokeWidth": 1.1},
          "encoding": {
            "x": {"field": "d", "type": "quantitative", "scale": {"domain": [0, 359.5], "nice": false, "zero": false}, "axis": {"orient": "bottom", "values": [0,50,100,150,200,250,300,350], "labels": false, "title": null, "grid": true}}
          }},
        {"data": {"name": "po4_bio"}, "mark": {"type": "area", "orient": "vertical", "clip": true, "fill": "#6fab2e", "fillOpacity": 0.62, "stroke": "#6fab2e", "strokeWidth": 1}},
        {"data": {"name": "po4_teal"}, "mark": {"type": "area", "orient": "vertical", "clip": true, "fill": "#2d6b4e", "fillOpacity": 0.5, "stroke": "black", "strokeWidth": 1}},
        {"data": {"name": "po4_obs"}, "mark": {"type": "line", "clip": true, "color": "black", "strokeWidth": 1.3, "interpolate": "monotone"},
          "encoding": {
            "x": {"field": "d", "type": "quantitative", "scale": {"domain": [0, 359.5], "nice": false, "zero": false}, "axis": {"orient": "top", "values": [0,50,100,150,200,250,300,350], "labels": false, "title": null, "grid": false}}
          }},
        {"data": {"values": [{}]}, "mark": {"type": "rule", "color": "#404040", "strokeWidth": 1.5},
          "encoding": {"x": {"datum": 0, "axis": null}, "x2": {"datum": 359.5}, "y": {"datum": 0}}},
        {"data": {"name": "po4_name"}, "mark": {"type": "text", "align": "left", "baseline": "alphabetic", "fontSize": 32, "font": "Liberation Sans", "fill": "#e2eaec", "stroke": "#6a8a92", "strokeWidth": 1.3},
          "encoding": {"text": {"field": "t"}}}
      ]
    },
    {
      "width": 566, "height": 286,
      "resolve": {"axis": {"x": "independent"}},
      "encoding": {
        "x": {"field": "d", "type": "quantitative", "scale": {"domain": [0, 359.5], "nice": false, "zero": false}, "axis": null},
        "y": {"field": "v", "type": "quantitative", "scale": {"domain": [-10, 15], "nice": false, "zero": false}, "stack": null, "axis": {"values": [-10,-5,0,5,10,15], "labelExpr": "'' + datum.value", "title": ["Inventory Change", "/ mmol Si m⁻² d⁻¹"], "grid": true}},
        "detail": {"field": "g"}
      },
      "layer": [
        {"data": {"name": "si_mix"}, "mark": {"type": "area", "orient": "vertical", "clip": true, "fill": "#b3203f", "fillOpacity": 0.48, "stroke": "#b3203f", "strokeWidth": 1.1},
          "encoding": {
            "x": {"field": "d", "type": "quantitative", "scale": {"domain": [0, 359.5], "nice": false, "zero": false}, "axis": {"orient": "bottom", "values": [0,50,100,150,200,250,300,350], "labels": true, "labelPadding": 9, "title": "Julian Day", "titlePadding": 4, "grid": true}}
          }},
        {"data": {"name": "si_bio"}, "mark": {"type": "area", "orient": "vertical", "clip": true, "fill": "#6fab2e", "fillOpacity": 0.62, "stroke": "#6fab2e", "strokeWidth": 1}},
        {"data": {"name": "si_teal"}, "mark": {"type": "area", "orient": "vertical", "clip": true, "fill": "#2d6b4e", "fillOpacity": 0.5, "stroke": "black", "strokeWidth": 1}},
        {"data": {"name": "si_obs"}, "mark": {"type": "line", "clip": true, "color": "black", "strokeWidth": 1.3, "interpolate": "monotone"},
          "encoding": {
            "x": {"field": "d", "type": "quantitative", "scale": {"domain": [0, 359.5], "nice": false, "zero": false}, "axis": {"orient": "top", "values": [0,50,100,150,200,250,300,350], "labels": false, "title": null, "grid": false}}
          }},
        {"data": {"values": [{}]}, "mark": {"type": "rule", "color": "#404040", "strokeWidth": 1.5},
          "encoding": {"x": {"datum": 0, "axis": null}, "x2": {"datum": 359.5}, "y": {"datum": 0}}},
        {"data": {"name": "si_name"}, "mark": {"type": "text", "align": "left", "baseline": "alphabetic", "fontSize": 32, "font": "Liberation Sans", "fill": "#e2eaec", "stroke": "#6a8a92", "strokeWidth": 1.3},
          "encoding": {"text": {"field": "t"}}}
      ]
    }
  ]
}
